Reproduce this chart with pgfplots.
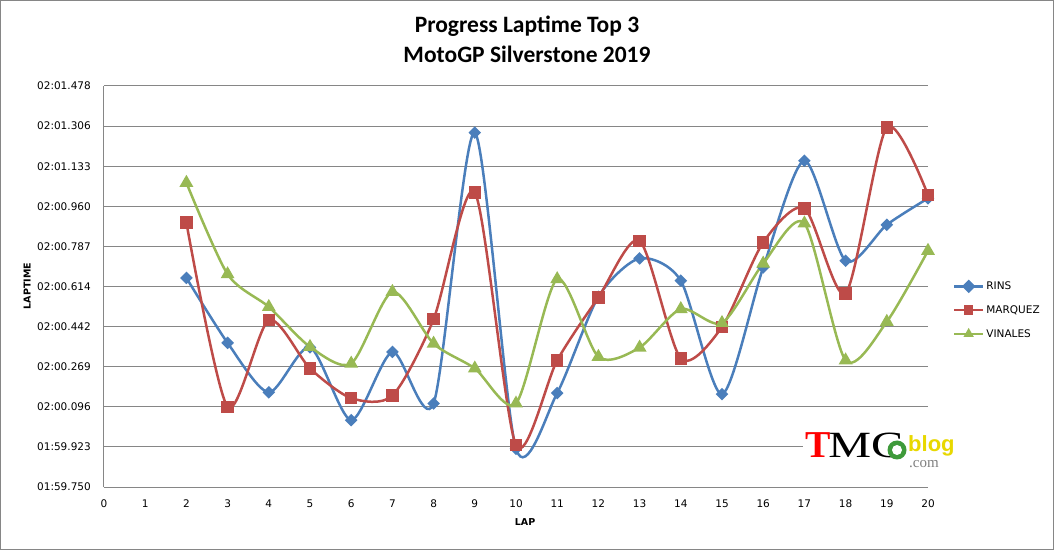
\documentclass[border=0pt]{standalone}
\usepackage{fontspec}
\setmainfont{Carlito}
\newfontfamily\tickfont{DejaVu Sans}
\newfontfamily\logoserif{Liberation Serif}
\newfontfamily\logosans{Liberation Sans}
\usepackage{pgfplots}
\pgfplotsset{compat=1.18}
\definecolor{rins}{HTML}{4A7EBB}
\definecolor{marq}{HTML}{BE4B48}
\definecolor{vina}{HTML}{98B954}
\definecolor{gridc}{HTML}{868686}
\definecolor{logoyellow}{HTML}{E8D800}
\definecolor{logogreen}{HTML}{3E9A3A}
\pgfplotstableread{
lap t
2 120.651
3 120.371
4 120.158
5 120.352
6 120.038
7 120.332
8 120.110
9 121.277
10 119.915
11 120.155
12 120.570
13 120.735
14 120.639
15 120.150
16 120.696
17 121.156
18 120.725
19 120.880
20 120.994
}\rins
\pgfplotstableread{
lap t
2 120.889
3 120.095
4 120.469
5 120.261
6 120.133
7 120.144
8 120.473
9 121.020
10 119.930
11 120.296
12 120.567
13 120.811
14 120.304
15 120.440
16 120.804
17 120.951
18 120.584
19 121.300
20 121.008
}\marq
\pgfplotstableread{
lap t
2 121.061
3 120.667
4 120.526
5 120.354
6 120.282
7 120.591
8 120.368
9 120.261
10 120.110
11 120.646
12 120.311
13 120.351
14 120.517
15 120.457
16 120.713
17 120.886
18 120.296
19 120.462
20 120.768
}\vina
\begin{document}
\begin{tikzpicture}
\useasboundingbox (-104bp,-64bp) rectangle (951bp,487bp);
\draw[gridc, line width=1bp] (-103bp,-62bp) rectangle (949bp,486bp);
\begin{axis}[
  at={(0,0)}, anchor=south west,
  scale only axis, width=824bp, height=401bp,
  xmin=0, xmax=20, ymin=119.75, ymax=121.478,
  xtick={0,1,2,3,4,5,6,7,8,9,10,11,12,13,14,15,16,17,18,19,20},
  xticklabels={0,1,2,3,4,5,6,7,8,9,10,11,12,13,14,15,16,17,18,19,20},
  ytick={119.75,119.9228,120.0956,120.2684,120.4412,120.614,120.7868,120.9596,121.1324,121.3052,121.478},
  yticklabels={01:59.750,01:59.923,02:00.096,02:00.269,02:00.442,02:00.614,02:00.787,02:00.960,02:01.133,02:01.306,02:01.478},
  ymajorgrids, major grid style={gridc, line width=1bp},
  axis lines*=left, axis line style={gridc, line width=1bp, -},
  major tick length=0pt,
  tick label style={font=\tickfont\fontsize{10.5bp}{12bp}\selectfont, text=black, inner sep=0pt},
  yticklabel style={anchor=east, xshift=-13bp},
  xticklabel style={anchor=north, yshift=-12.5bp},
  xlabel={LAP}, ylabel={LAPTIME},
  label style={font=\tickfont\bfseries\fontsize{9.5bp}{11bp}\selectfont},
  xlabel style={at={(axis description cs:0.511,-0.087)}, anchor=center},
  ylabel style={at={(axis description cs:-0.0934,0.501)}, anchor=center},
  legend style={at={(1.03,0.441)}, anchor=west, draw=none, fill=none,
    font=\tickfont\fontsize{10.5bp}{12bp}\selectfont, row sep=10.5bp, inner sep=0pt},
  legend cell align=left,
  legend image code/.code={\draw[#1, mark=none] (0bp,0bp) -- (29bp,0bp);
     \draw[#1, only marks, mark size=3.5bp] plot coordinates {(14.5bp,0bp)};},
  every axis plot/.append style={smooth, tension=0.45, line width=2.5bp},
]
\addplot[rins, mark=square*, mark size=3.2bp, mark options={rotate=45, solid}] table[x=lap,y=t] {\rins};
\addlegendentry{RINS}
\addplot[marq, mark=square*, mark size=5bp, mark options={solid}] table[x=lap,y=t] {\marq};
\addlegendentry{MARQUEZ}
\addplot[vina, mark=triangle*, mark size=5.5bp, mark options={solid}] table[x=lap,y=t] {\vina};
\addlegendentry{VINALES}
\end{axis}
\node[anchor=base, font=\bfseries\fontsize{23.5bp}{27bp}\selectfont] at (423bp,454bp) {Progress Laptime Top 3};
\node[anchor=base, font=\bfseries\fontsize{23.5bp}{27bp}\selectfont] at (423bp,424bp) {MotoGP Silverstone 2019};
% logo
\fill[white] (699bp,17bp) rectangle (858bp,60bp);
\node[anchor=base west, inner sep=0pt, text=red, font=\logoserif\bfseries\fontsize{38bp}{38bp}\selectfont] at (701bp,30bp) {T};
\node[anchor=base west, inner sep=0pt, xscale=1.3, font=\logoserif\fontsize{37bp}{37bp}\selectfont] at (724bp,30bp) {MC};
\fill[logogreen] (793bp,37bp) circle (9.5bp);
\fill[white] (793bp,37bp) circle (5bp);
\node[anchor=base west, inner sep=0pt, text=logoyellow, font=\logosans\bfseries\fontsize{22bp}{22bp}\selectfont] at (804bp,36bp) {blog};
\node[anchor=base west, inner sep=0pt, text=gray, font=\logoserif\fontsize{15bp}{15bp}\selectfont] at (805bp,20bp) {.com};
\end{tikzpicture}
\end{document}
